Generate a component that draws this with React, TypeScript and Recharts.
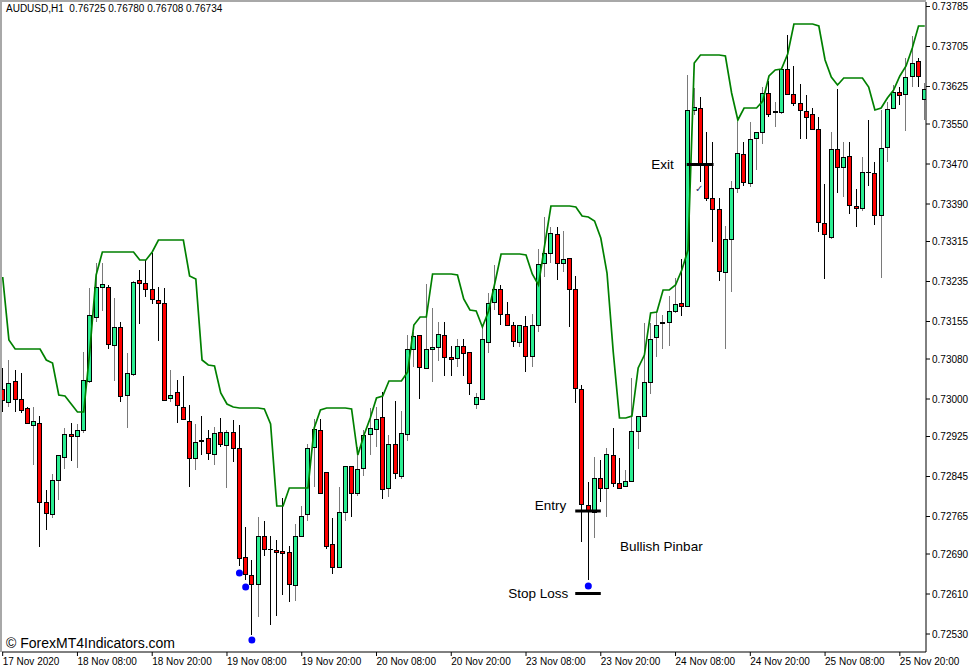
import React from "react";
import {
  ComposedChart,
  Bar,
  Line,
  Scatter,
  XAxis,
  YAxis,
  ReferenceLine,
  ReferenceDot,
} from "recharts";

const FONT = "'Liberation Sans', Arial, sans-serif";
const BULL = "#2BEE92";
const BEAR = "#FF0000";

// AUDUSD H1, 17 Nov 20:00 .. 26 Nov 00:00
const opens = [
  0.7302, 0.72994, 0.73036, 0.73, 0.72982, 0.72948, 0.72952, 0.72794, 0.7277, 0.72838,
  0.72884, 0.7293, 0.72926, 0.72938, 0.73036, 0.73164, 0.73224, 0.73224, 0.73108, 0.73144,
  0.73008, 0.7305, 0.73238, 0.73232, 0.7322, 0.73198, 0.73192, 0.73002, 0.73014, 0.72984,
  0.72956, 0.72882, 0.72918, 0.72922, 0.7289, 0.72934, 0.72908, 0.72934, 0.72902, 0.72684,
  0.72648, 0.7263, 0.72726, 0.727, 0.72698, 0.72696, 0.72694, 0.72628, 0.72726, 0.7277,
  0.72904, 0.72938, 0.72854, 0.7271, 0.72664, 0.72774, 0.72866, 0.72812, 0.72862, 0.7293,
  0.7294, 0.72964, 0.72822, 0.7291, 0.72846, 0.7293, 0.731, 0.73128, 0.73062, 0.731,
  0.73104, 0.73128, 0.73084, 0.73082, 0.73106, 0.73094, 0.7299, 0.73, 0.73114, 0.73194,
  0.7322, 0.7317, 0.73148, 0.73114, 0.73146, 0.73086, 0.73148, 0.73272, 0.73292, 0.7333,
  0.73272, 0.73282, 0.7322, 0.7302, 0.72788, 0.72774, 0.72842, 0.72822, 0.72888, 0.72832,
  0.72826, 0.72836, 0.72936, 0.72966, 0.73034, 0.73124, 0.73152, 0.73154, 0.73176, 0.73192,
  0.73186, 0.73578, 0.73582, 0.73468, 0.73402, 0.7338, 0.73254, 0.7332, 0.73422, 0.7349,
  0.73432, 0.73522, 0.73534, 0.73612, 0.73574, 0.73574, 0.7366, 0.7361, 0.73592, 0.73576,
  0.7357, 0.7354, 0.73352, 0.73324, 0.735, 0.73464, 0.73486, 0.73386, 0.73382, 0.73454,
  0.73452, 0.73368, 0.73504, 0.73582, 0.73614, 0.7361, 0.73646, 0.73676, 0.736,
];

const highs = [
  0.73062, 0.73078, 0.73058, 0.73052, 0.72984, 0.72984, 0.72966, 0.72818, 0.7285, 0.72888,
  0.72942, 0.72952, 0.7295, 0.73094, 0.73222, 0.73272, 0.73272, 0.73228, 0.73202, 0.73154,
  0.73092, 0.73236, 0.73258, 0.73278, 0.73292, 0.73224, 0.73222, 0.73058, 0.73038, 0.73046,
  0.72988, 0.7295, 0.72966, 0.72938, 0.72944, 0.72962, 0.72938, 0.72958, 0.72948, 0.72744,
  0.72678, 0.72764, 0.72756, 0.72726, 0.72718, 0.72802, 0.72706, 0.7275, 0.72786, 0.7291,
  0.7296, 0.7296, 0.72854, 0.72762, 0.72824, 0.72866, 0.72866, 0.72904, 0.72938, 0.72982,
  0.72984, 0.73014, 0.72928, 0.72996, 0.72976, 0.73128, 0.73134, 0.73128, 0.7323, 0.73182,
  0.73154, 0.73154, 0.73106, 0.7312, 0.7312, 0.73094, 0.73012, 0.73144, 0.73212, 0.73268,
  0.73228, 0.73194, 0.73154, 0.73148, 0.73166, 0.7317, 0.733, 0.73364, 0.73344, 0.73344,
  0.73336, 0.73282, 0.73246, 0.73028, 0.72834, 0.72884, 0.72878, 0.72902, 0.72942, 0.72882,
  0.72858, 0.73042, 0.72966, 0.73152, 0.73152, 0.73174, 0.73168, 0.73206, 0.73242, 0.7328,
  0.73648, 0.73622, 0.73604, 0.73534, 0.73514, 0.73402, 0.73346, 0.73436, 0.73554, 0.73514,
  0.73554, 0.73534, 0.73624, 0.73636, 0.73594, 0.73662, 0.73728, 0.73666, 0.7363, 0.73608,
  0.73582, 0.73564, 0.7343, 0.73534, 0.7362, 0.73514, 0.73514, 0.7342, 0.73484, 0.73558,
  0.73474, 0.73578, 0.73594, 0.73628, 0.73624, 0.73682, 0.73726, 0.73682, 0.73632,
];

const lows = [
  0.72974, 0.72984, 0.72974, 0.72972, 0.7295, 0.72868, 0.72704, 0.72738, 0.72762, 0.72798,
  0.7286, 0.72876, 0.72862, 0.72932, 0.73032, 0.73154, 0.73176, 0.731, 0.73036, 0.72994,
  0.72942, 0.73046, 0.7315, 0.73204, 0.7319, 0.73116, 0.72998, 0.72994, 0.72952, 0.72958,
  0.72824, 0.72858, 0.72888, 0.72878, 0.72868, 0.72904, 0.72822, 0.72874, 0.72666, 0.72638,
  0.72528, 0.72564, 0.72686, 0.72548, 0.72566, 0.72608, 0.72594, 0.72596, 0.72724, 0.72756,
  0.72824, 0.72812, 0.727, 0.7265, 0.72664, 0.72756, 0.72764, 0.72806, 0.72846, 0.72888,
  0.72904, 0.728, 0.72804, 0.7284, 0.7284, 0.72916, 0.73064, 0.73, 0.73062, 0.73034,
  0.73076, 0.73046, 0.73046, 0.73064, 0.73046, 0.73008, 0.7298, 0.73, 0.73092, 0.73178,
  0.73148, 0.73148, 0.73104, 0.73104, 0.73054, 0.73064, 0.73134, 0.73244, 0.73272, 0.73238,
  0.73254, 0.73144, 0.72992, 0.72714, 0.72638, 0.72722, 0.72794, 0.72764, 0.72824, 0.72822,
  0.72824, 0.72836, 0.729, 0.72966, 0.7301, 0.73084, 0.731, 0.73106, 0.73172, 0.73166,
  0.73184, 0.73568, 0.73434, 0.73396, 0.73314, 0.73236, 0.731, 0.73214, 0.73412, 0.73426,
  0.73424, 0.73458, 0.7351, 0.73564, 0.73544, 0.7357, 0.73608, 0.73586, 0.7352, 0.7352,
  0.73538, 0.73334, 0.7324, 0.7332, 0.73412, 0.73404, 0.7337, 0.73344, 0.73376, 0.73426,
  0.73348, 0.73242, 0.73474, 0.7358, 0.73588, 0.73536, 0.73624, 0.73624, 0.73558,
];

const closes = [
  0.72998, 0.73032, 0.73, 0.72978, 0.72952, 0.72956, 0.72794, 0.72772, 0.72838, 0.72888,
  0.7293, 0.72926, 0.72938, 0.73038, 0.73168, 0.73224, 0.7323, 0.7311, 0.73144, 0.73006,
  0.73052, 0.73234, 0.73232, 0.7322, 0.732, 0.73192, 0.72998, 0.73008, 0.72988, 0.7296,
  0.72882, 0.72914, 0.72916, 0.72892, 0.72932, 0.7291, 0.72934, 0.72902, 0.72682, 0.7265,
  0.7263, 0.72726, 0.727, 0.727, 0.72694, 0.72692, 0.7263, 0.72726, 0.72766, 0.72902,
  0.7294, 0.72812, 0.72706, 0.72664, 0.72774, 0.72866, 0.72812, 0.7286, 0.72928, 0.72942,
  0.7296, 0.7282, 0.7291, 0.72852, 0.72932, 0.731, 0.73126, 0.73064, 0.731, 0.73104,
  0.7313, 0.73084, 0.7308, 0.73106, 0.73092, 0.73032, 0.73004, 0.7312, 0.73192, 0.7322,
  0.7317, 0.73148, 0.73116, 0.73148, 0.73086, 0.73148, 0.7327, 0.73292, 0.73332, 0.73272,
  0.7328, 0.7322, 0.73022, 0.7279, 0.72776, 0.72842, 0.72822, 0.7289, 0.72832, 0.72822,
  0.72836, 0.72936, 0.72966, 0.73034, 0.7312, 0.73148, 0.73154, 0.73176, 0.7319, 0.73186,
  0.73578, 0.73584, 0.73472, 0.73402, 0.7338, 0.73256, 0.7332, 0.73422, 0.73492, 0.73434,
  0.7352, 0.73534, 0.73612, 0.7357, 0.73576, 0.7366, 0.7361, 0.73592, 0.73578, 0.73564,
  0.7354, 0.73354, 0.7333, 0.735, 0.73464, 0.73484, 0.73388, 0.73382, 0.73454, 0.73454,
  0.73368, 0.73502, 0.7358, 0.73614, 0.73608, 0.73644, 0.73672, 0.73646, 0.7362,
];

// upper channel line (green)
const band = [
  0.73244, 0.73118, 0.731, 0.731, 0.731, 0.731, 0.731, 0.73078, 0.73072, 0.73008,
  0.73006, 0.7299, 0.72974, 0.72974, 0.73098, 0.73248, 0.73294, 0.73294, 0.73294, 0.73294,
  0.73294, 0.73294, 0.73278, 0.73278, 0.73294, 0.73318, 0.73318, 0.73318, 0.73318, 0.73318,
  0.73246, 0.7324, 0.73078, 0.73068, 0.73066, 0.73012, 0.7299, 0.72984, 0.72982, 0.72982,
  0.72982, 0.72982, 0.7298, 0.7295, 0.72786, 0.72786, 0.72822, 0.72822, 0.72822, 0.72822,
  0.72942, 0.72978, 0.72982, 0.72982, 0.72982, 0.72982, 0.7298, 0.72888, 0.72928, 0.72962,
  0.73002, 0.73006, 0.73036, 0.73036, 0.73036, 0.73054, 0.73148, 0.73164, 0.73164, 0.7325,
  0.7325, 0.7325, 0.7325, 0.73248, 0.732, 0.73178, 0.73176, 0.73144, 0.73176, 0.73232,
  0.7329, 0.7329, 0.7329, 0.7329, 0.73288, 0.7325, 0.73228, 0.73308, 0.73386, 0.73386,
  0.73386, 0.73386, 0.73384, 0.73366, 0.73364, 0.73356, 0.73322, 0.73252, 0.73094, 0.72962,
  0.72962, 0.72966, 0.73062, 0.73088, 0.73172, 0.73174, 0.73218, 0.73218, 0.73228, 0.73258,
  0.73298, 0.73672, 0.73688, 0.73688, 0.73688, 0.73688, 0.73686, 0.73612, 0.73558, 0.73582,
  0.73582, 0.73582, 0.73596, 0.73646, 0.73658, 0.7366, 0.7369, 0.7375, 0.7375, 0.7375,
  0.7375, 0.73746, 0.73678, 0.73644, 0.73628, 0.73642, 0.73642, 0.73642, 0.73642, 0.73624,
  0.73578, 0.73582, 0.73602, 0.73618, 0.73646, 0.73666, 0.73702, 0.73746, 0.73746,
];

const dotIndex = [38, 39, 40, 94];
const dotPrice = [0.72652, 0.72624, 0.72518, 0.72626];

const xTicks = [0, 12, 24, 36, 48, 60, 72, 84, 96, 108, 120, 132, 144];
const xTickLabels = [
  "17 Nov 2020", "18 Nov 08:00", "18 Nov 20:00", "19 Nov 08:00", "19 Nov 20:00",
  "20 Nov 08:00", "20 Nov 20:00", "23 Nov 08:00", "23 Nov 20:00", "24 Nov 08:00",
  "24 Nov 20:00", "25 Nov 08:00", "25 Nov 20:00",
];
const yTicks = [
  0.73785, 0.73705, 0.73625, 0.7355, 0.7347, 0.7339, 0.73315, 0.73235, 0.73155,
  0.7308, 0.73, 0.72925, 0.72845, 0.72765, 0.7269, 0.7261, 0.7253,
];

// trade levels: [label, price, from bar, to bar]
const levelNames = ["Exit", "Entry", "Stop Loss"];
const levelPrices = [0.73469, 0.72776, 0.72611];
const levelFrom = [109.8, 91.9, 91.9];
const levelTo = [114.1, 96.0, 96.0];
const labelPrices = [0.73469, 0.72788, 0.72611];
const labelOffsets = [13, 9, 7];

const data = opens.map((o, i) => ({
  i,
  o,
  h: highs[i],
  l: lows[i],
  c: closes[i],
  range: [lows[i], highs[i]],
  band: band[i],
}));

const dots = dotIndex.map((i, k) => ({ i, v: dotPrice[k] }));

function Candle(props: any) {
  const { x, y, width, height, payload } = props;
  if (!payload || height == null) return null;
  const { o, h, l, c } = payload;
  const n = Math.round(x + width / 2 - 0.5);
  const cx = n + 0.5;
  const py = (p: number) => y + ((h - p) / (h - l)) * height;
  const top = py(Math.max(o, c));
  const bot = py(Math.min(o, c));
  const up = c > o;
  return (
    <g>
      <line x1={cx} x2={cx} y1={y} y2={y + height} stroke={up ? "#7a7a7a" : "#000"} strokeWidth={1} />
      {o === c ? (
        <line x1={cx - 2.5} x2={cx + 2.5} y1={Math.round(top) + 0.5} y2={Math.round(top) + 0.5} stroke="#000" />
      ) : (
        <rect
          x={cx - 2}
          y={Math.round(top) + 0.5}
          width={4}
          height={Math.max(Math.round(bot - top), 1)}
          fill={up ? BULL : BEAR}
          stroke="#000"
          strokeWidth={1}
        />
      )}
    </g>
  );
}

function DateTick(props: any) {
  const { x, y, payload } = props;
  const k = xTicks.indexOf(payload.value);
  return (
    <text x={x} y={y} dy="0.71em" textAnchor="start" fontSize={10} fontFamily={FONT} fill="#000">
      {xTickLabels[k]}
    </text>
  );
}

const annFont = { fontSize: 13.5, fontFamily: FONT, fill: "#000" };

export default function App() {
  return (
    <div style={{ position: "fixed", left: 0, top: 0, width: 977, height: 672, background: "#fff" }}>
      <div
        style={{
          position: "absolute",
          left: 0,
          top: 0,
          width: 924,
          height: 650,
          borderLeft: "2px solid #a8a8a8",
          borderTop: "2px solid #a8a8a8",
        }}
      />
      <ComposedChart
        width={977}
        height={672}
        data={data}
        margin={{ top: 2, right: 0, bottom: 0, left: 2 }}
        style={{ position: "absolute", left: 0, top: 0 }}
      >
        <XAxis
          dataKey="i"
          type="number"
          domain={[-0.11, 148.2]}
          allowDataOverflow
          ticks={xTicks}
          interval={0}
          height={20}
          tickSize={4}
          tick={<DateTick />}
          axisLine={{ stroke: "#000" }}
          tickLine={{ stroke: "#000" }}
        />
        <YAxis
          orientation="right"
          type="number"
          domain={[0.72494, 0.73794]}
          allowDataOverflow
          ticks={yTicks}
          interval={0}
          width={51}
          tickSize={4}
          tickFormatter={(v: number) => v.toFixed(5)}
          tick={{ fontSize: 10, fontFamily: FONT, fill: "#000" }}
          axisLine={{ stroke: "#000" }}
          tickLine={{ stroke: "#000" }}
        />
        <Line
          dataKey="band"
          type="linear"
          stroke="#008000"
          strokeWidth={1.7}
          dot={false}
          isAnimationActive={false}
        />
        <Bar dataKey="range" barSize={4} shape={<Candle />} isAnimationActive={false} />
        <Scatter
          data={dots}
          dataKey="v"
          isAnimationActive={false}
          shape={(p: any) => <circle cx={p.cx} cy={p.cy} r={3.5} fill="#0000ff" />}
        />
        {levelNames.map((name, k) => (
          <ReferenceLine
            key={name}
            segment={[
              { x: levelFrom[k], y: levelPrices[k] },
              { x: levelTo[k], y: levelPrices[k] },
            ]}
            stroke="#000"
            strokeWidth={3}
            ifOverflow="visible"
          />
        ))}
        {levelNames.map((name, k) => (
          <ReferenceDot
            key={"l" + name}
            x={levelFrom[k]}
            y={labelPrices[k]}
            r={0}
            stroke="none"
            fill="none"
            label={{ value: name, position: "left", offset: labelOffsets[k], ...annFont }}
          />
        ))}
        <ReferenceDot
          x={99.1}
          y={0.72706}
          r={0}
          stroke="none"
          fill="none"
          label={{ value: "Bullish Pinbar", position: "right", offset: 0, ...annFont }}
        />
        <ReferenceDot
          x={111.8}
          y={0.73421}
          r={0}
          stroke="none"
          fill="none"
          label={{ value: "✓", position: "center", fontSize: 10, fontFamily: "DejaVu Sans", fill: "#1c2a6a" }}
        />
      </ComposedChart>
      <div
        style={{
          position: "absolute",
          left: 6,
          top: 3,
          fontSize: 10,
          lineHeight: "12px",
          fontFamily: FONT,
          color: "#000",
          whiteSpace: "pre",
        }}
      >
        {"AUDUSD,H1  0.76725 0.76780 0.76708 0.76734"}
      </div>
      <div
        style={{
          position: "absolute",
          left: 6,
          top: 635,
          fontSize: 14,
          lineHeight: "16px",
          fontFamily: FONT,
          color: "#000",
          whiteSpace: "pre",
        }}
      >
        {"© ForexMT4Indicators.com"}
      </div>
    </div>
  );
}
